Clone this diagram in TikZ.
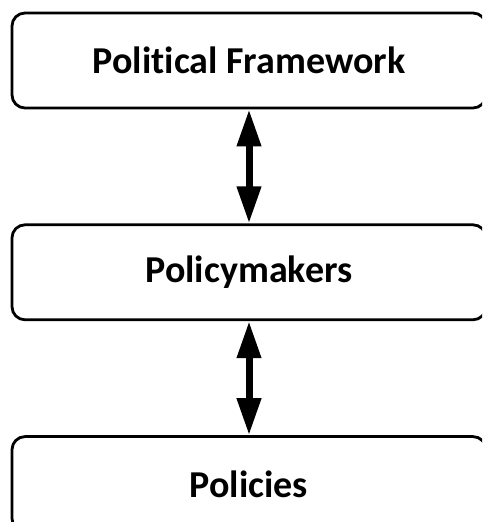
\documentclass[tikz,border=0pt]{standalone}
\usepackage{fontspec}
\setmainfont[Ligatures=NoCommon]{Carlito}
\usetikzlibrary{arrows.meta, positioning}
\tikzset{>={Triangle[length=37pt,width=23pt]}}
\tikzset{box/.style={draw, line width=2.8pt, rounded corners=13pt, minimum width=474pt, minimum height=95pt, inner sep=0pt, font=\fontsize{38}{42}\selectfont\bfseries}}

\begin{document}
\begin{tikzpicture}[x=1pt, y=1pt]
\useasboundingbox (0,0) rectangle (482,522);
\clip (0,0) rectangle (482,522);
\node[box] (frame) at (249,461.5) {Political Framework};
\node[box, below=114pt of frame] (makers) {Policymakers};
\node[box, below=114pt of makers] (pol) {Policies};
\draw[<->, line width=7pt](frame.south)--(makers.north);
\draw[<->, line width=7pt](makers.south)--(pol.north);
\end{tikzpicture}
\end{document}
